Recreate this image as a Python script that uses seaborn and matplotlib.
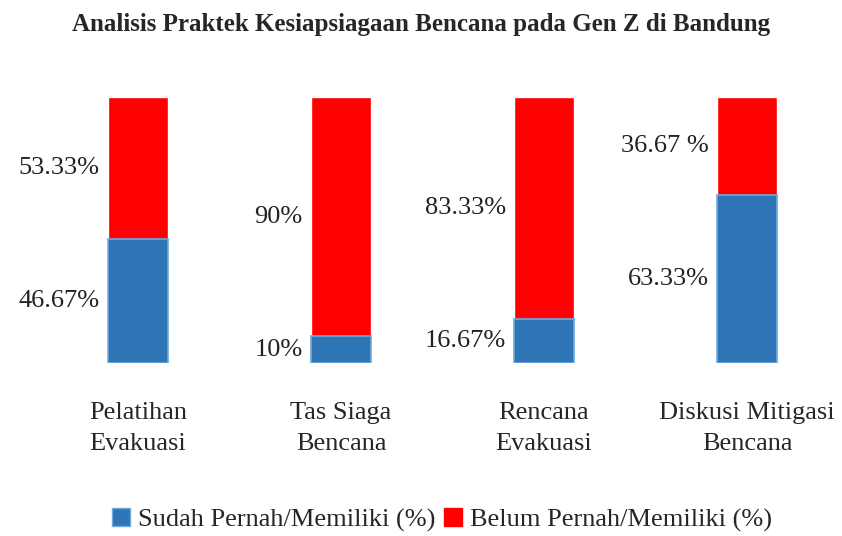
import numpy as np
import pandas as pd
import matplotlib
matplotlib.use("Agg")
import matplotlib.pyplot as plt
import seaborn as sns
from matplotlib.patches import Patch

# Data
categories = ["Pelatihan\nEvakuasi", "Tas Siaga\nBencana", "Rencana\nEvakuasi", "Diskusi Mitigasi\nBencana"]
sudah = [46.67, 10, 16.67, 63.33]
belum = [53.33, 90, 83.33, 36.67]
sudah_labels = ["46.67%", "10%", "16.67%", "63.33%"]
belum_labels = ["53.33%", "90%", "83.33%", "36.67 %"]

blue = "#2E75B6"
blue_edge = "#6FA8DC"
red = "#FF0000"

sns.set_style("white")
plt.rcParams["font.family"] = ["Liberation Serif", "DejaVu Serif"]

df = pd.DataFrame({"kategori": categories, "sudah": sudah, "belum": belum})
df["total"] = df["sudah"] + df["belum"]

fig = plt.figure(figsize=(8.42, 5.36), dpi=100)
ax = fig.add_axes([0, 0.3228, 1, 0.496])

# stacked: red total behind, blue on top
sns.barplot(data=df, x="kategori", y="total", color=red, width=0.296,
            saturation=1, ax=ax)
sns.barplot(data=df, x="kategori", y="sudah", color=blue, width=0.296,
            saturation=1, ax=ax, edgecolor=blue_edge, linewidth=1.2)

ax.set_xlim(-0.68, 3.468)
ax.set_ylim(0, 100)
ax.set_yticks([])
ax.set_xlabel("")
ax.set_ylabel("")
for s in ax.spines.values():
    s.set_visible(False)

ax.tick_params(axis="x", length=0, pad=28, labelsize=19)
for t in ax.get_xticklabels():
    t.set_linespacing(1.55)

# value labels to the left of each bar
for i in range(len(categories)):
    xl = i - 0.148 - 0.04
    ax.text(xl, sudah[i] / 2, sudah_labels[i], ha="right", va="center", fontsize=19, color="#222222")
    ax.text(xl, sudah[i] + belum[i] / 2, belum_labels[i], ha="right", va="center", fontsize=19, color="#222222")

fig.suptitle("Analisis Praktek Kesiapsiagaan Bencana pada Gen Z di Bandung",
             y=0.975, fontsize=18, fontweight="bold")

handles = [Patch(facecolor=blue, edgecolor=blue_edge), Patch(facecolor=red, edgecolor=red)]
fig.legend(handles, ["Sudah Pernah/Memiliki (%)", "Belum Pernah/Memiliki (%)"],
           loc="center", bbox_to_anchor=(0.525, 0.03), ncol=2, frameon=False,
           fontsize=19, handlelength=0.7, handleheight=0.7, handletextpad=0.3,
           columnspacing=0.3)

fig.savefig("out.png", dpi=100)
